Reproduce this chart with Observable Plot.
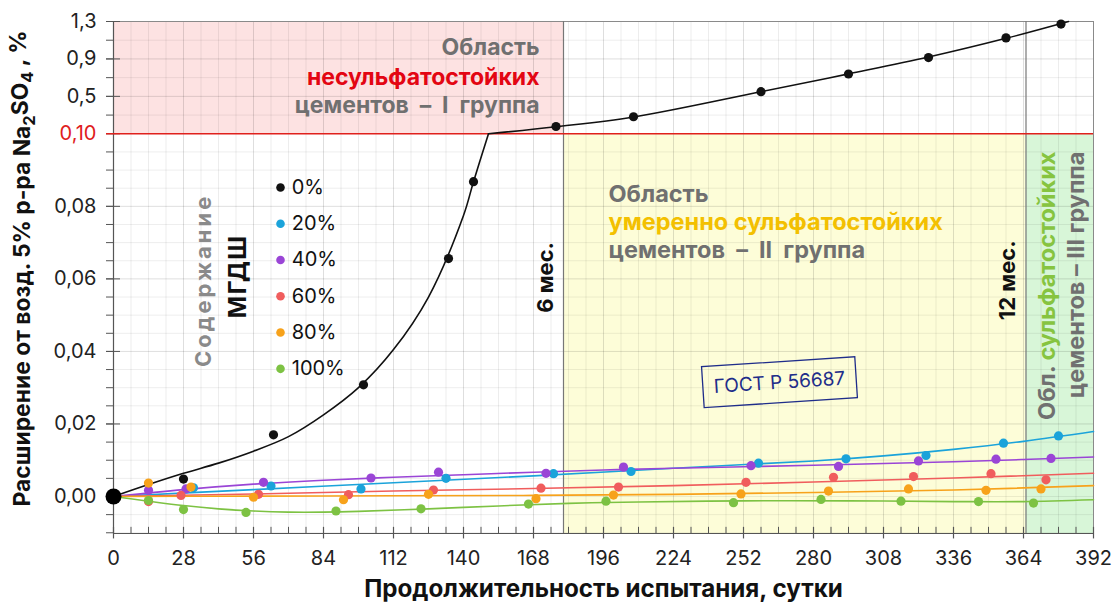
<!DOCTYPE html>
<html><head><meta charset="utf-8">
<script src="https://cdn.jsdelivr.net/npm/d3@7"></script>
<script src="https://cdn.jsdelivr.net/npm/@observablehq/plot@0.6"></script>
<style>
html,body{margin:0;padding:0;background:#fff;}
#chart{width:1115px;height:608px;}
</style></head><body><div id="chart"></div>
<script>
// ---------- DATA ----------
const seriesNames  = ["0%","20%","40%","60%","80%","100%"];
const seriesColors = ["#111111","#1ba3da","#9a45d6","#f05d5d","#f7a21b","#7dc243"];

// measured points (days, expansion %)
const originDay = [0];
const originVal = [0];
const days0 = [28,64,100,134,144,177,208,259,294,326,357,379];
const vals0 = [0.0048,0.0170,0.0308,0.0656,0.0868,0.178,0.282,0.55,0.739,0.915,1.125,1.272];
const days20 = [32,63,99,133,176,207,258,293,325,356,378];
const vals20 = [0.0024,0.0029,0.0021,0.0050,0.0063,0.0069,0.0092,0.0104,0.0113,0.0147,0.0167];
const days40 = [14,29,60,103,130,173,204,255,290,322,353,375];
const vals40 = [0.0017,0.0021,0.0039,0.0051,0.0067,0.0064,0.0081,0.0085,0.0083,0.0098,0.0103,0.0105];
const days60 = [14,27,58,94,128,171,202,253,288,320,351,373];
const vals60 = [-0.0014,0.0003,0.0006,0.0005,0.0018,0.0023,0.0026,0.0039,0.0053,0.0055,0.0063,0.0046];
const days80 = [14,31,56,92,126,169,200,251,286,318,349,371];
const vals80 = [0.0037,0.0026,-0.0002,-0.0009,0.0006,-0.0006,0.0004,0.0007,0.0015,0.0021,0.0017,0.0021];
const days100 = [14,28,53,89,123,166,197,248,283,315,346,368];
const vals100 = [-0.0011,-0.0036,-0.0044,-0.0040,-0.0034,-0.0021,-0.0013,-0.0017,-0.0008,-0.0013,-0.0014,-0.0018];

// trend curves
const trendDays0a = [0,14,28,42,56,70,84,98,112,126,140,144,150];
const trendVals0a = [0,0.0033,0.0064,0.0092,0.0125,0.0165,0.0225,0.030,0.0405,0.055,0.0775,0.0868,0.1];
const trendDays0b = [150,177,208,259,294,326,357,382];
const trendVals0b = [0.1,0.175,0.28,0.55,0.74,0.92,1.12,1.3];
const trendDays20 = [0,56,112,168,224,280,308,336,364,392];
const trendVals20 = [0,0.0019,0.0038,0.0057,0.0078,0.0098,0.0112,0.0130,0.0152,0.0179];
const trendDays40 = [0,28,56,84,112,140,168,196,224,252,280,308,336,364,392];
const trendVals40 = [0,0.0019,0.0034,0.0045,0.0053,0.0060,0.0067,0.0073,0.0078,0.0082,0.0086,0.0091,0.0096,0.0102,0.0109];
const trendDays60 = [0,56,112,168,224,280,336,392];
const trendVals60 = [0,0.0007,0.0015,0.0022,0.0030,0.0040,0.0051,0.0064];
const trendDays80 = [0,56,112,168,224,280,336,392];
const trendVals80 = [0,0.0001,0.0002,0.0003,0.0006,0.0011,0.0018,0.0030];
const trendDays100 = [0,14,28,42,56,70,84,98,126,154,182,210,252,294,336,364,392];
const trendVals100 = [0,-0.0013,-0.0025,-0.0034,-0.0040,-0.0043,-0.0043,-0.0041,-0.0034,-0.0026,-0.0019,-0.0015,-0.0012,-0.0012,-0.0014,-0.0014,-0.0009];

// axes
const xTickLabels = [0,28,56,84,112,140,168,196,224,252,280,308,336,364,392];
const yTickLabels = [0,0.02,0.04,0.06,0.08,0.10,0.5,0.9,1.3];
const yLabelText  = ["0,00","0,02","0,04","0,06","0,08","0,10","0,5","0,9","1,3"];

// thresholds
const month6 = 180, month12 = 365, limitI = 0.1;
const xMax = 392, yMin = -0.0102, yMax = 1.3;

// ---------- BUILD ----------
const pts = [];
const ptDays = [days0,days20,days40,days60,days80,days100];
const ptVals = [vals0,vals20,vals40,vals60,vals80,vals100];
ptDays.forEach((ds,k)=>ds.forEach((d,i)=>pts.push({day:d,val:ptVals[k][i],color:seriesColors[k],k})));
const trends = [];
const tD = [trendDays0a,trendDays0b,trendDays20,trendDays40,trendDays60,trendDays80,trendDays100];
const tV = [trendVals0a,trendVals0b,trendVals20,trendVals40,trendVals60,trendVals80,trendVals100];
const tC = [0,0,1,2,3,4,5];
tD.forEach((ds,k)=>ds.forEach((d,i)=>trends.push({day:d,val:tV[k][i],key:k,color:seriesColors[tC[k]]})));

const regions = [
  {x1:0, x2:month6, y1:limitI, y2:yMax, fill:"#fde2e2"},
  {x1:month6, x2:month12, y1:yMin, y2:limitI, fill:"#fdfdd8"},
  {x1:month12, x2:xMax, y1:yMin, y2:limitI, fill:"#d8f6d8"}
];
const r5 = v => Math.round(v*1000)/1000;
const lowerGrid = d3.range(-0.01, 0.1, 0.005).map(r5);
const hMajor = [0.02,0.04,0.06,0.08,0.5,0.9];
const hMinor = lowerGrid.filter(v=>!hMajor.includes(v)).concat([0.3,0.7,1.1]);
const vAll = d3.range(7, xMax, 7);
const vMajor = vAll.filter(v=>v%28===0);
const vMinor = vAll.filter(v=>v%28!==0);
const yTicksAll = lowerGrid.concat([0.3,0.5,0.7,0.9,1.1]);
const tickLenY = 0.0017;   // ~6px in lower scale
const tickLenX = 2.8;      // ~7px in days

const FONT = "Inter, Roboto, 'Noto Sans', 'DejaVu Sans', sans-serif";
const GRAY = "#707070";

const legendTop = 0.0852;

const plot = Plot.plot({
  width:1115, height:608,
  marginLeft:113, marginRight:22, marginTop:21, marginBottom:75,
  x:{domain:[0,xMax], axis:null},
  y:{type:"linear", domain:[yMin, limitI, yMax], range:[533,133.3,21], axis:null},
  color:{type:"identity"},
  style:{fontFamily:FONT, fontSize:"18px", background:"#fff", overflow:"visible"},
  marks:[
    Plot.rect(regions,{x1:"x1",x2:"x2",y1:"y1",y2:"y2",fill:"fill"}),
    Plot.ruleY(hMinor,{stroke:"#000",strokeOpacity:0.07}),
    Plot.ruleY(hMajor,{stroke:"#000",strokeOpacity:0.13}),
    Plot.ruleX(vMinor,{stroke:"#000",strokeOpacity:0.07}),
    Plot.ruleX(vMajor,{stroke:"#000",strokeOpacity:0.13}),
    Plot.frame({stroke:"#8a8a8a"}),
    Plot.ruleX([month6,month12],{stroke:"#777",strokeWidth:1.2}),
    // axes lines and ticks
    Plot.ruleX([0],{stroke:"#555",strokeWidth:1.2}),
    Plot.ruleY([yMin],{stroke:"#555",strokeWidth:1.2}),
    Plot.ruleY(yTicksAll,{x1:-tickLenX,x2:0,stroke:"#555"}),
    Plot.ruleY(yTickLabels,{x1:-tickLenX,x2:tickLenX,stroke:"#555"}),
    Plot.ruleX(vMinor,{y1:yMin,y2:yMin+tickLenY,stroke:"#555"}),
    Plot.ruleX(xTickLabels,{y1:yMin-0.0015,y2:yMin+tickLenY,stroke:"#555",strokeWidth:1.2}),
    Plot.ruleY([limitI],{x1:-tickLenX,x2:xMax,stroke:"#e0201c",strokeWidth:1.6}),
    // tick labels
    Plot.text(yTickLabels,{x:0,y:d=>d,text:(d,i)=>yLabelText[i],textAnchor:"end",dx:-17,fontSize:20,
      fill:d=>d===limitI?"#e0201c":"#222"}),
    Plot.text(xTickLabels,{x:d=>d,y:yMin,dy:25,text:d=>String(d),fontSize:20,fill:"#222"}),
    // axis titles
    Plot.text(["Продолжительность испытания, сутки"],{frameAnchor:"bottom",textAnchor:"middle",dy:63,fontSize:21,fontWeight:"bold",fill:"#111"}),
    Plot.text(["YTITLE"],{frameAnchor:"left",textAnchor:"middle",dx:-91,dy:-9,rotate:-90,fontSize:19,fontWeight:"bold",fill:"#111"}),
    // trends
    Plot.line(trends,{x:"day",y:"val",z:"key",stroke:"color",strokeWidth:1.6,curve:"catmull-rom"}),
    // points
    Plot.dot(pts,{x:"day",y:"val",fill:"color",r:4.6}),
    Plot.dot(originDay,{x:d=>d,y:(d,i)=>originVal[i],r:8,fill:"#000"}),
    // legend
    Plot.dot(seriesNames,{x:66.8,y:(d,i)=>legendTop-0.01*i,fill:(d,i)=>seriesColors[i],r:4.3}),
    Plot.text(seriesNames,{x:71.3,y:(d,i)=>legendTop-0.01*i,text:d=>d,textAnchor:"start",fontSize:20,fill:"#111"}),
    Plot.text(["Содержание"],{x:36,y:0.0596,rotate:-90,fontSize:22,fontWeight:"bold",fill:"#8a8a8a"}),
    Plot.text(["МГДШ"],{x:49.8,y:0.0607,rotate:-90,fontSize:24,fontWeight:"bold",fill:"#111"}),
    // region I text
    Plot.text(["Область"],{x:170.4,y:1.022,textAnchor:"end",fontSize:23,fontWeight:"bold",fill:GRAY}),
    Plot.text(["несульфатостойких"],{x:170.4,y:0.70,textAnchor:"end",fontSize:23,fontWeight:"bold",fill:"#e30613"}),
    Plot.text(["цементов  –  I  группа"],{x:170.4,y:0.402,textAnchor:"end",fontSize:23,fontWeight:"bold",fill:GRAY}),
    // region II text
    Plot.text(["Область"],{x:198,y:0.0833,textAnchor:"start",fontSize:23.5,fontWeight:"bold",fill:GRAY}),
    Plot.text(["умеренно сульфатостойких"],{x:198,y:0.0755,textAnchor:"start",fontSize:23.5,fontWeight:"bold",fill:"#f3c000"}),
    Plot.text(["цементов  –  II  группа"],{x:198,y:0.0678,textAnchor:"start",fontSize:23.5,fontWeight:"bold",fill:GRAY}),
    // months
    Plot.text(["6 мес."],{x:172.8,y:0.0604,rotate:-90,fontSize:22,fontWeight:"bold",fill:"#111"}),
    Plot.text(["12 мес."],{x:357.6,y:0.0596,rotate:-90,fontSize:22,fontWeight:"bold",fill:"#111"}),
    // region III text
    Plot.text(["OBLTEXT"],{x:373.6,y:0.0951,rotate:-90,textAnchor:"end",fontSize:23.5,fontWeight:"bold",fill:GRAY}),
    Plot.text(["цементов – III группа"],{x:385,y:0.0951,rotate:-90,textAnchor:"end",fontSize:23.5,fontWeight:"bold",fill:GRAY}),
    // GOST stamp
    Plot.text(["ГОСТ Р 56687"],{x:266.4,y:0.0314,rotate:-3.7,fontSize:19,fill:"#1f2d8a"})
  ]
});
document.getElementById("chart").appendChild(plot);

// ---------- post-processing (rich text) ----------
const svg = d3.select(plot);
const findText = s => svg.selectAll("text").filter(function(){return this.textContent===s;});
const fitLength = (sel, target) => sel.each(function(){
  const fs = parseFloat(getComputedStyle(this).fontSize);
  const L = this.getComputedTextLength();
  if (L > 0) d3.select(this).attr("font-size", (fs*target/L).toFixed(2));
});
// y title with subscripts
findText("YTITLE").each(function(){
  const t = d3.select(this); t.text("");
  t.append("tspan").text("Расширение от возд. 5% р-ра Na");
  t.append("tspan").attr("dy","0.3em").attr("font-size","0.72em").text("2");
  t.append("tspan").attr("dy","-0.3em").text("SO");
  t.append("tspan").attr("dy","0.3em").attr("font-size","0.72em").text("4");
  t.append("tspan").attr("dy","-0.3em").text(" , %");
});
fitLength(findText("Расширение от возд. 5% р-ра Na2SO4 , %"), 476);
fitLength(findText("Продолжительность испытания, сутки"), 479);
findText("OBLTEXT").each(function(){
  const t = d3.select(this); t.text("");
  t.append("tspan").attr("fill",GRAY).text("Обл. ");
  t.append("tspan").attr("fill","#86c440").text("сульфатостойких");
});
findText("Содержание").attr("letter-spacing","3");
findText("МГДШ").attr("letter-spacing","1.5");
findText("ГОСТ Р 56687").each(function(){
  const b = this.getBBox();
  const padX = 11, padY = 9;
  d3.select(this.parentNode).insert("rect", () => this)
    .attr("x", b.x - padX).attr("y", b.y - padY)
    .attr("width", b.width + 2*padX).attr("height", b.height + 2*padY)
    .attr("transform", this.getAttribute("transform"))
    .attr("fill","none").attr("stroke","#1f2d8a").attr("stroke-width",1.3);
});
</script></body></html>
